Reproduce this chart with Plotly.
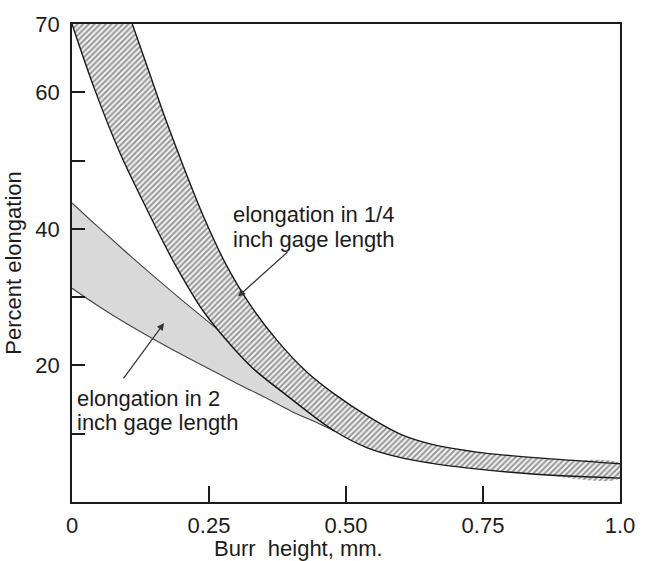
import plotly.graph_objects as go

# hatched band: elongation in 1/4 inch gage length
quarter_lo_x = [0, 0.041, 0.086, 0.137, 0.186, 0.24, 0.294, 0.33, 0.389, 0.479,
                0.54, 0.6, 0.654, 0.72, 0.84, 1.0]
quarter_lo_y = [70, 60.5, 51.4, 42.8, 35.1, 27.9, 22.6, 19.6, 15.8, 10.4,
                7.9, 6.5, 5.7, 5.0, 4.1, 3.5]
quarter_hi_x = [0.11, 0.141, 0.171, 0.204, 0.24, 0.279, 0.324, 0.375, 0.429, 0.479,
                0.541, 0.6, 0.659, 0.75, 0.894, 1.0]
quarter_hi_y = [70, 62.9, 56.0, 49.0, 41.8, 35.1, 29.0, 23.6, 19.0, 15.8,
                12.5, 9.9, 8.4, 7.2, 6.2, 5.6]

# grey band: elongation in 2 inch gage length
two_hi_x = [0, 0.05, 0.1, 0.15, 0.2, 0.25, 0.3, 0.33, 0.389, 0.479]
two_hi_y = [43.8, 40.1, 36.5, 33.0, 29.6, 26.3, 22.9, 19.6, 15.8, 10.4]
two_lo_x = [0, 0.05, 0.1, 0.15, 0.2, 0.25, 0.3, 0.35, 0.4, 0.45, 0.479]
two_lo_y = [31.3, 28.6, 26.1, 23.8, 21.6, 19.5, 17.4, 15.4, 13.3, 11.5, 10.4]

x_ticks = [0, 0.25, 0.5, 0.75, 1.0]
x_labels = ["0", "0.25", "0.50", "0.75", "1.0"]
y_ticks = [0, 10, 20, 30, 40, 50, 60, 70]
y_labels = ["", "", "20", "", "40", "", "60", "70"]

FONT = "Liberation Sans, Arial, sans-serif"
INK = "#1c1c1c"
SMOOTH = dict(shape="spline", smoothing=1.0)

fig = go.Figure()

# grey band
fig.add_trace(go.Scatter(
    x=two_hi_x + two_lo_x[::-1], y=two_hi_y + two_lo_y[::-1],
    fill="toself", fillcolor="#d9d9d9", mode="lines",
    line=dict(width=0, **SMOOTH), hoverinfo="skip"))
for xs, ys in [(two_hi_x, two_hi_y), (two_lo_x, two_lo_y)]:
    fig.add_trace(go.Scatter(x=xs, y=ys, mode="lines",
                             line=dict(color="#444", width=1.1, **SMOOTH)))

# hatched band
fig.add_trace(go.Scatter(
    x=quarter_lo_x + quarter_hi_x[::-1], y=quarter_lo_y + quarter_hi_y[::-1],
    fill="toself", fillcolor="white", mode="lines",
    fillpattern=dict(shape="/", fgcolor="#333", bgcolor="#eeeeee", size=4, solidity=0.45),
    line=dict(width=0, **SMOOTH), hoverinfo="skip"))
for xs, ys in [(quarter_lo_x, quarter_lo_y), (quarter_hi_x, quarter_hi_y)]:
    fig.add_trace(go.Scatter(x=xs, y=ys, mode="lines",
                             line=dict(color="#1a1a1a", width=1.4, **SMOOTH)))

# labels and arrows
labels = [
    (0.29, 42.1, "elongation in 1/4"),
    (0.29, 38.5, "inch gage length"),
    (0.005, 15.2, "elongation in 2"),
    (0.005, 11.6, "inch gage length"),
]
for lx, ly, txt in labels:
    fig.add_annotation(x=lx, y=ly, text=txt, showarrow=False, xanchor="left",
                       yanchor="middle", font=dict(size=22, color=INK, family=FONT))

arrows = [((0.303, 30.1), (0.396, 36.8)), ((0.168, 26.2), (0.092, 17.9))]
for (tx, ty), (sx, sy) in arrows:
    fig.add_annotation(x=tx, y=ty, ax=sx, ay=sy, xref="x", yref="y", axref="x", ayref="y",
                       text="", showarrow=True, arrowhead=2, arrowsize=1.2,
                       arrowwidth=1.2, arrowcolor="#333")

fig.add_annotation(x=0.414, y=-0.097, xref="paper", yref="paper", text="Burr\u00a0 height, mm.",
                   showarrow=False, yanchor="middle", font=dict(size=22, color=INK, family=FONT))

fig.update_xaxes(range=[0, 1], tickvals=x_ticks, ticktext=x_labels, ticks="inside",
                 ticklen=16, tickwidth=1.5, tickcolor=INK, showline=True, linecolor=INK,
                 linewidth=1.6, mirror=True, showgrid=False, zeroline=False,
                 ticklabelstandoff=3, tickfont=dict(size=22, color=INK, family=FONT))
fig.update_yaxes(range=[0, 70], tickvals=y_ticks, ticktext=y_labels, ticks="inside",
                 ticklen=13, tickwidth=1.5, tickcolor=INK, showline=True, linecolor=INK,
                 linewidth=1.6, mirror=True, showgrid=False, zeroline=False,
                 ticklabelstandoff=6, tickfont=dict(size=22, color=INK, family=FONT),
                 title=dict(text="Percent elongation", standoff=8,
                            font=dict(size=22, color=INK, family=FONT)))

fig.update_layout(width=647, height=561, showlegend=False,
                  margin=dict(l=67, r=25, t=16, b=59),
                  paper_bgcolor="white", plot_bgcolor="white")

fig.write_html("out.html", config={"displayModeBar": False},
               post_script="document.body.style.margin='0';")
